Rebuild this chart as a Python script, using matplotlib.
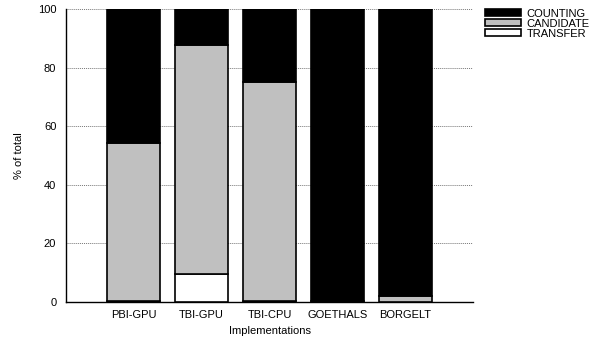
import numpy as np
import matplotlib
matplotlib.use("Agg")
import matplotlib.pyplot as plt

plt.rcParams['font.family'] = ['Liberation Sans', 'DejaVu Sans']

labels = ["PBI-GPU", "TBI-GPU", "TBI-CPU", "GOETHALS", "BORGELT"]
transfer = np.array([0.3, 9.7, 0.2, 0.0, 0.0])
candidate = np.array([54.0, 78.0, 74.8, 0.5, 2.0])
counting = 100 - transfer - candidate

fig = plt.figure(figsize=(6.09, 3.42), dpi=100)
ax = fig.add_axes([66 / 609, 40 / 342, 407 / 609, 293 / 342])

x = np.arange(len(labels))
w = 0.78
ax.bar(x, transfer, w, color="white", edgecolor="black", linewidth=1.2, label="TRANSFER", zorder=3)
ax.bar(x, candidate, w, bottom=transfer, color="#c0c0c0", edgecolor="black", linewidth=1.2,
       label="CANDIDATE", zorder=3)
ax.bar(x, counting, w, bottom=transfer + candidate, color="black", edgecolor="black",
       linewidth=1.2, label="COUNTING", zorder=3)

ax.set_xlim(-1, 5)
ax.set_ylim(0, 100)
ax.set_xticks(x)
ax.set_xticklabels(labels, fontsize=8)
ax.set_yticks(np.arange(0, 101, 20))
ax.tick_params(axis="y", labelsize=8, length=0, pad=7)
ax.tick_params(axis="x", length=0, pad=6)
ax.set_ylabel("% of total", fontsize=8, labelpad=10)
ax.set_xlabel("Implementations", fontsize=8, labelpad=4)
ax.yaxis.grid(True, linestyle=(0, (1, 1)), color="#777777", linewidth=0.7, zorder=0)
for s in ["top", "right"]:
    ax.spines[s].set_visible(False)
ax.spines["left"].set_linewidth(1.0)
ax.spines["bottom"].set_linewidth(1.0)

h, l = ax.get_legend_handles_labels()
leg = fig.legend(h[::-1], l[::-1], loc="upper left", bbox_to_anchor=(479 / 609, 1 - 3 / 342),
                 frameon=False, fontsize=8, handlelength=3.3, handleheight=0.6,
                 labelspacing=0.0, handletextpad=0.5, borderpad=0)

fig.savefig("out.png", dpi=100)
